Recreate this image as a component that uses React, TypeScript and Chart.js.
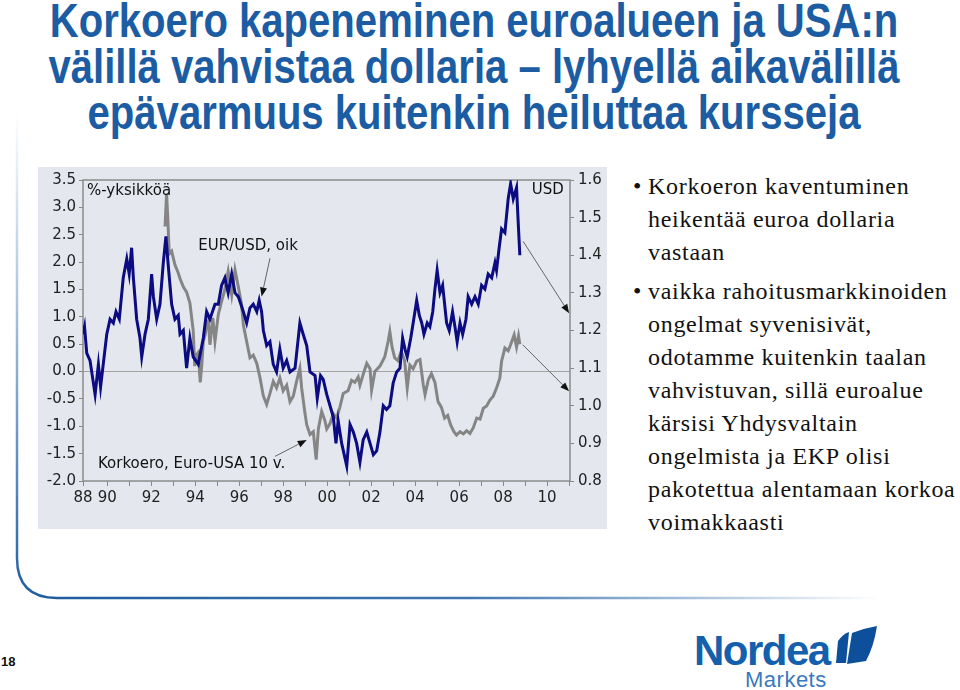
import React, { useEffect, useRef } from 'react';
import { Chart, registerables } from 'chart.js';

Chart.register(...registerables);

// EUR/USD (right axis, USD)
const eurUsdYears = [
  1988.90, 1988.97, 1989.07, 1989.22, 1989.45, 1989.60, 1989.70, 1989.82, 1989.98,
  1990.13, 1990.28, 1990.40, 1990.55, 1990.73, 1990.89, 1991.00, 1991.11, 1991.19,
  1991.34, 1991.49, 1991.57, 1991.72, 1991.87, 1992.02, 1992.10, 1992.25, 1992.40,
  1992.55, 1992.67, 1992.78, 1992.93, 1993.08, 1993.23, 1993.31, 1993.46, 1993.61,
  1993.76, 1993.91, 1994.14, 1994.37, 1994.52, 1994.67, 1994.90, 1995.05, 1995.20,
  1995.35, 1995.50, 1995.66, 1995.81, 1995.96, 1996.19, 1996.34, 1996.49, 1996.64,
  1996.80, 1996.91, 1997.02, 1997.10, 1997.25, 1997.40, 1997.55, 1997.70, 1997.85,
  1998.00, 1998.16, 1998.31, 1998.54, 1998.76, 1998.91, 1999.07, 1999.22, 1999.45,
  1999.55, 1999.70, 1999.82, 1999.98, 2000.13, 2000.28, 2000.40, 2000.50, 2000.66,
  2000.89, 2001.04, 2001.19, 2001.34, 2001.49, 2001.64, 2001.80, 2001.95, 2002.10,
  2002.25, 2002.40, 2002.55, 2002.70, 2002.85, 2003.00, 2003.16, 2003.31, 2003.43,
  2003.54, 2003.64, 2003.80, 2003.91, 2004.07, 2004.19, 2004.30, 2004.40, 2004.55,
  2004.67, 2004.80, 2004.90, 2005.00, 2005.13, 2005.25, 2005.43, 2005.55, 2005.70,
  2005.81, 2005.91, 2006.04, 2006.16, 2006.31, 2006.41, 2006.57, 2006.72, 2006.87,
  2007.02, 2007.17, 2007.32, 2007.48, 2007.63, 2007.70, 2007.82, 2007.93, 2008.08,
  2008.23, 2008.34, 2008.46, 2008.61, 2008.70, 2008.76,
];
const eurUsdValues = [
  1.19, 1.21, 1.14, 1.12, 1.03, 1.11, 1.05, 1.11, 1.19,
  1.23, 1.22, 1.25, 1.23, 1.34, 1.39, 1.35, 1.42, 1.34,
  1.23, 1.18, 1.13, 1.19, 1.23, 1.35, 1.29, 1.23, 1.27,
  1.38, 1.45, 1.37, 1.27, 1.23, 1.24, 1.19, 1.20, 1.10,
  1.18, 1.13, 1.11, 1.18, 1.25, 1.23, 1.27, 1.27, 1.32,
  1.34, 1.30, 1.35, 1.30, 1.29, 1.25, 1.22, 1.26, 1.27,
  1.25, 1.28, 1.25, 1.20, 1.16, 1.17, 1.11, 1.09, 1.15,
  1.10, 1.12, 1.09, 1.10, 1.22, 1.19, 1.16, 1.09, 1.08,
  1.02, 1.08, 1.07, 1.03, 1.00, 0.97, 0.90, 0.96, 0.90,
  0.84, 0.95, 0.93, 0.90, 0.85, 0.91, 0.93, 0.90, 0.87,
  0.88, 0.93, 1.00, 0.99, 1.00, 1.06, 1.09, 1.10, 1.18,
  1.15, 1.13, 1.18, 1.22, 1.28, 1.24, 1.22, 1.19, 1.22,
  1.21, 1.25, 1.31, 1.36, 1.30, 1.32, 1.22, 1.20, 1.25,
  1.21, 1.17, 1.22, 1.19, 1.23, 1.29, 1.27, 1.29, 1.27,
  1.32, 1.31, 1.35, 1.34, 1.38, 1.36, 1.42, 1.47, 1.46,
  1.55, 1.59, 1.55, 1.58, 1.47, 1.40,
];

// Korkoero, Euro-USA 10 v. (left axis, %-yksikköä)
const spreadYears = [
  1992.63, 1992.70, 1992.76, 1992.82, 1992.93, 1993.08, 1993.23, 1993.31, 1993.46,
  1993.61, 1993.76, 1993.91, 1993.98, 1994.05, 1994.14, 1994.23, 1994.30, 1994.37,
  1994.45, 1994.52, 1994.60, 1994.67, 1994.80, 1994.90, 1995.05, 1995.20, 1995.35,
  1995.50, 1995.66, 1995.81, 1995.96, 1996.11, 1996.19, 1996.34, 1996.49, 1996.64,
  1996.80, 1996.95, 1997.10, 1997.25, 1997.40, 1997.55, 1997.70, 1997.85, 1998.00,
  1998.16, 1998.31, 1998.46, 1998.61, 1998.76, 1998.84, 1998.98, 1999.07, 1999.22,
  1999.37, 1999.50, 1999.60, 1999.75, 1999.90, 1999.98, 2000.13, 2000.28, 2000.43,
  2000.58, 2000.73, 2000.95, 2001.11, 2001.26, 2001.41, 2001.49, 2001.64, 2001.80,
  2001.95, 2002.02, 2002.17, 2002.40, 2002.62, 2002.77, 2002.85, 2002.95, 2003.07,
  2003.22, 2003.37, 2003.52, 2003.64, 2003.76, 2003.91, 2004.07, 2004.22, 2004.37,
  2004.45, 2004.60, 2004.74, 2004.90, 2005.04, 2005.19, 2005.34, 2005.48, 2005.61,
  2005.76, 2005.88, 2006.04, 2006.19, 2006.34, 2006.49, 2006.64, 2006.80, 2006.95,
  2007.10, 2007.25, 2007.40, 2007.55, 2007.70, 2007.85, 2007.93, 2008.08, 2008.23,
  2008.34, 2008.50, 2008.61, 2008.70, 2008.76,
];
const spreadValues = [
  2.65, 3.25, 2.75, 2.15, 2.20, 1.95, 1.80, 1.70, 1.55,
  1.45, 1.25, 0.75, 0.10, 0.30, 0.35, -0.20, 0.12, 0.55,
  0.67, 0.85, 0.92, 0.49, 0.98, 0.55, 1.04, 1.28, 1.50,
  1.83, 1.40, 1.86, 1.55, 1.22, 0.85, 0.55, 0.25, 0.30,
  0.15, -0.12, -0.45, -0.60, -0.40, -0.18, -0.30, -0.12, -0.35,
  -0.25, -0.55, -0.45, -0.18, 0.06, -0.30, -0.73, -0.97, -1.15,
  -1.10, -1.61, -1.05, -0.73, -0.90, -1.05, -0.95, -0.77, -0.85,
  -0.65, -0.40, -0.35, -0.16, -0.20, -0.10, -0.25, -0.05, 0.15,
  0.05, -0.34, 0.00, 0.10, 0.27, 0.55, 0.73, 0.45, 0.25,
  0.20, 0.37, 0.20, -0.30, 0.12, 0.05, 0.19, 0.22, -0.24,
  -0.42, -0.15, -0.04, -0.20, -0.55, -0.65, -0.85, -0.80, -0.97,
  -1.10, -1.16, -1.10, -1.14, -1.08, -1.13, -1.03, -0.85, -0.87,
  -0.67, -0.63, -0.52, -0.45, -0.30, -0.12, 0.19, 0.43, 0.38,
  0.49, 0.67, 0.45, 0.65, 0.50,
];

const xTickYears = [
  1988.9, 1990, 1991, 1992, 1993, 1994, 1995, 1996, 1997, 1998, 1999, 2000,
  2001, 2002, 2003, 2004, 2005, 2006, 2007, 2008, 2009, 2010, 2011,
];
const xTickLabels = [
  '88', '90', '', '92', '', '94', '', '96', '', '98', '', '00',
  '', '02', '', '04', '', '06', '', '08', '', '10', '',
];

const titleLines = [
  'Korkoero kapeneminen euroalueen ja USA:n',
  'välillä vahvistaa dollaria – lyhyellä aikavälillä',
  'epävarmuus kuitenkin heiluttaa kursseja',
];
const bullet1 = ['Korkoeron kaventuminen', 'heikentää euroa dollaria', 'vastaan'];
const bullet2 = [
  'vaikka rahoitusmarkkinoiden',
  'ongelmat syvenisivät,',
  'odotamme kuitenkin taalan',
  'vahvistuvan, sillä euroalue',
  'kärsisi Yhdysvaltain',
  'ongelmista ja EKP olisi',
  'pakotettua alentamaan korkoa',
  'voimakkaasti',
];

const notes = [
  { text: '%-yksikköä', x: 1989.08, y: 3.3, axis: 'y', align: 'left' },
  { text: 'USD', x: 2010.76, y: 3.32, axis: 'y', align: 'right' },
  { text: 'EUR/USD, oik', x: 1994.14, y: 2.29, axis: 'y', align: 'left' },
  { text: 'Korkoero, Euro-USA 10 v.', x: 1989.58, y: -1.69, axis: 'y', align: 'left' },
];
const arrows = [
  { axis: 'y', x0: 1997.4, y0: 2.07, x1: 1997.02, y1: 1.37 },
  { axis: 'y', x0: 1997.63, y0: -1.55, x1: 1999.07, y1: -1.25 },
  { axis: 'y1', x0: 2008.91, y0: 1.437, x1: 2011.0, y1: 1.246 },
  { axis: 'y', x0: 2008.89, y0: 0.49, x1: 2011.0, y1: -0.36 },
];

const FONT = '"DejaVu Sans", Verdana, sans-serif';

const annotationPlugin = {
  id: 'notes',
  beforeDatasetsDraw(chart: any) {
    const { ctx, chartArea } = chart;
    ctx.save();
    ctx.strokeStyle = '#8c8c8c';
    ctx.lineWidth = 1.5;
    ctx.strokeRect(chartArea.left, chartArea.top, chartArea.right - chartArea.left, chartArea.bottom - chartArea.top);
    ctx.restore();
  },
  afterDatasetsDraw(chart: any) {
    const { ctx, scales } = chart;
    ctx.save();
    ctx.font = `15px ${FONT}`;
    ctx.fillStyle = '#111';
    ctx.textBaseline = 'middle';
    for (const n of notes) {
      ctx.textAlign = n.align;
      ctx.fillText(n.text, scales.x.getPixelForValue(n.x), scales[n.axis].getPixelForValue(n.y));
    }
    for (const a of arrows) {
      const ys = scales[a.axis];
      const px0 = scales.x.getPixelForValue(a.x0);
      const py0 = ys.getPixelForValue(a.y0);
      const px1 = scales.x.getPixelForValue(a.x1);
      const py1 = ys.getPixelForValue(a.y1);
      const ang = Math.atan2(py1 - py0, px1 - px0);
      const len = 9;
      const hw = 3.5;
      ctx.strokeStyle = '#666';
      ctx.lineWidth = 1;
      ctx.beginPath();
      ctx.moveTo(px0, py0);
      ctx.lineTo(px1 - Math.cos(ang) * len, py1 - Math.sin(ang) * len);
      ctx.stroke();
      ctx.fillStyle = '#111';
      ctx.beginPath();
      ctx.moveTo(px1, py1);
      ctx.lineTo(px1 - Math.cos(ang) * len - Math.sin(ang) * hw, py1 - Math.sin(ang) * len + Math.cos(ang) * hw);
      ctx.lineTo(px1 - Math.cos(ang) * len + Math.sin(ang) * hw, py1 - Math.sin(ang) * len - Math.cos(ang) * hw);
      ctx.closePath();
      ctx.fill();
    }
    ctx.restore();
  },
};

export default function App() {
  const ref = useRef<HTMLCanvasElement>(null);

  useEffect(() => {
    const tickFont = { family: FONT, size: 15 };
    const chart = new Chart(ref.current as HTMLCanvasElement, {
      type: 'line',
      data: {
        datasets: [
          {
            label: 'EUR/USD, oik',
            data: eurUsdYears.map((x, i) => ({ x, y: eurUsdValues[i] })),
            yAxisID: 'y1',
            borderColor: '#0b0b82',
            borderWidth: 3,
            pointRadius: 0,
            tension: 0,
          },
          {
            label: 'Korkoero, Euro-USA 10 v.',
            data: spreadYears.map((x, i) => ({ x, y: spreadValues[i] })),
            yAxisID: 'y',
            borderColor: '#858585',
            borderWidth: 3,
            pointRadius: 0,
            tension: 0,
          },
        ],
      },
      options: {
        animation: false,
        responsive: false,
        layout: { padding: { top: 12, left: 0, right: 0, bottom: 0 } },
        plugins: { legend: { display: false }, tooltip: { enabled: false } },
        scales: {
          x: {
            type: 'linear',
            min: 1988.9,
            max: 2011.04,
            afterBuildTicks: (s: any) => {
              s.ticks = xTickYears.map((v) => ({ value: v }));
            },
            afterFit: (s: any) => {
              s.height = 48;
            },
            ticks: {
              autoSkip: false,
              maxRotation: 0,
              padding: 3,
              color: '#222',
              font: tickFont,
              callback: (_v: any, i: number) => xTickLabels[i],
            },
            grid: { drawOnChartArea: false, tickLength: 5, color: '#888' },
            border: { display: false },
          },
          y: {
            position: 'left',
            min: -2,
            max: 3.5,
            afterFit: (s: any) => {
              s.width = 45;
            },
            ticks: {
              stepSize: 0.5,
              padding: 3,
              color: '#222',
              font: tickFont,
              callback: (v: any) => Number(v).toFixed(1),
            },
            grid: {
              drawOnChartArea: true,
              tickLength: 4,
              tickColor: '#888',
              color: (c: any) => (c.tick && c.tick.value === 0 ? '#a3a3a3' : 'rgba(0,0,0,0)'),
            },
            border: { display: false },
          },
          y1: {
            position: 'right',
            min: 0.8,
            max: 1.6,
            afterFit: (s: any) => {
              s.width = 37;
            },
            ticks: {
              stepSize: 0.1,
              padding: 4,
              color: '#222',
              font: tickFont,
              callback: (v: any) => Number(v).toFixed(1),
            },
            grid: { drawOnChartArea: false, tickLength: 4, color: '#888' },
            border: { display: false },
          },
        },
      },
      plugins: [annotationPlugin],
    } as any);
    return () => chart.destroy();
  }, []);

  const serif: React.CSSProperties = {
    fontFamily: '"Liberation Serif", "Times New Roman", serif',
    fontSize: 24,
    letterSpacing: 0.7,
    lineHeight: '33px',
    color: '#111',
    whiteSpace: 'nowrap',
  };

  const renderBullet = (lines: string[], extraTop: number) => (
    <div style={{ position: 'relative', paddingLeft: 15, marginTop: extraTop }}>
      <span style={{ position: 'absolute', left: 0, top: 0, letterSpacing: 0 }}>•</span>
      {lines.map((l, i) => (
        <div key={i}>{l}</div>
      ))}
    </div>
  );

  return (
    <div
      style={{
        position: 'absolute',
        left: 0,
        top: 0,
        width: 960,
        height: 690,
        background: '#fff',
        overflow: 'hidden',
      }}
    >
      <svg width={960} height={690} style={{ position: 'absolute', left: 0, top: 0 }}>
        <defs>
          <linearGradient id="gv" gradientUnits="userSpaceOnUse" x1="0" y1="110" x2="0" y2="598">
            <stop offset="0" stopColor="#2a66a8" stopOpacity="0" />
            <stop offset="0.45" stopColor="#2a66a8" stopOpacity="0.45" />
            <stop offset="1" stopColor="#1f5d9f" stopOpacity="1" />
          </linearGradient>
          <linearGradient id="gh" gradientUnits="userSpaceOnUse" x1="55" y1="0" x2="880" y2="0">
            <stop offset="0" stopColor="#1f5d9f" stopOpacity="1" />
            <stop offset="0.5" stopColor="#2a66a8" stopOpacity="0.9" />
            <stop offset="1" stopColor="#2a66a8" stopOpacity="0" />
          </linearGradient>
        </defs>
        <path d="M17,110 L17,558 Q17,598 57,598" fill="none" stroke="url(#gv)" strokeWidth={2.5} />
        <path d="M57,598 L880,598" fill="none" stroke="url(#gh)" strokeWidth={2.5} />
        <path d="M838,641 Q843,634 849,632 L846,663 L836,663 Z" fill="#0d4f9a" />
        <path d="M852,633 Q865,628 877,626 Q874,646 866,661 L847,664 Z" fill="#0d4f9a" />
      </svg>

      <div
        style={{
          position: 'absolute',
          left: -126,
          top: -2,
          width: 1200,
          textAlign: 'center',
          fontFamily: '"Liberation Sans", Arial, sans-serif',
          fontWeight: 'bold',
          fontSize: 48,
          lineHeight: '46px',
          color: '#1b5ca3',
        }}
      >
        {titleLines.map((l, i) => (
          <div key={i} style={{ whiteSpace: 'nowrap', transform: 'scaleX(0.835)', transformOrigin: '50% 50%' }}>
            {l}
          </div>
        ))}
      </div>

      <canvas
        ref={ref}
        width={569}
        height={362}
        style={{ position: 'absolute', left: 38, top: 167, width: 569, height: 362, background: '#e4e8ee' }}
      />

      <div style={{ position: 'absolute', left: 633, top: 170, width: 330, ...serif }}>
        {renderBullet(bullet1, 0)}
        {renderBullet(bullet2, 6)}
      </div>

      <div
        style={{
          position: 'absolute',
          left: 1,
          top: 654,
          fontFamily: '"Liberation Sans", Arial, sans-serif',
          fontWeight: 'bold',
          fontSize: 13,
          color: '#111',
        }}
      >
        18
      </div>

      <div
        style={{
          position: 'absolute',
          left: 694,
          top: 628,
          fontFamily: '"Liberation Sans", Arial, sans-serif',
          fontWeight: 'bold',
          fontSize: 42,
          letterSpacing: -1.5,
          lineHeight: '46px',
          color: '#1460ad',
        }}
      >
        Nordea
      </div>
      <div
        style={{
          position: 'absolute',
          left: 745,
          top: 669,
          fontFamily: '"Liberation Sans", Arial, sans-serif',
          fontSize: 22,
          lineHeight: '22px',
          letterSpacing: 0.5,
          color: '#3a78bf',
        }}
      >
        Markets
      </div>
    </div>
  );
}
